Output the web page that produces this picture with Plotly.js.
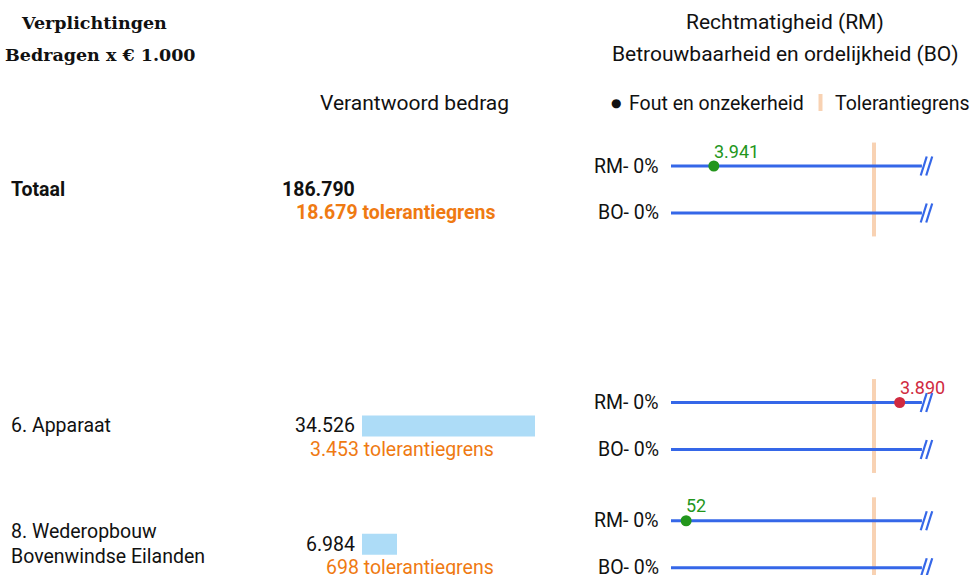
<!DOCTYPE html>
<html>
<head>
<meta charset="utf-8">
<script src="https://cdn.plot.ly/plotly-3.0.1.min.js"></script>
<style>html,body{margin:0;padding:0;background:#fff;}#chart{width:971px;height:575px;}</style>
</head>
<body>
<div id="chart"></div>
<script>
// ---- data ----
const categories = ["Totaal", "6. Apparaat", "8. Wederopbouw<br>Bovenwindse Eilanden"];
const bedrag = [186790, 34526, 6984];
const tolerantie = [18679, 3453, 698];
const rmFout = [3941, 3890, 52];
const rmPct = ["0%", "0%", "0%"];
const boPct = ["0%", "0%", "0%"];
const isTotal = [true, false, false];

// ---- layout helpers ----
const W = 971, H = 575;
const PX = x => x / W;          // paper x from pixel
const PY = y => 1 - y / H;      // paper y from pixel
const rowPos = categories.map((c, i) => i === 0 ? 0 : i + 1);
const rmOff = -0.1987, boOff = 0.1987, tolHalf = 0.397;
const lineEnd = 1.236;
const fmt = n => String(Math.round(n)).replace(/\B(?=(\d{3})+(?!\d))/g, '.');

const BLUE = '#3567e8', ORANGE_TXT = '#ef7a12', TOL = '#f8d2b3', BAR = '#addcf7';
const GREEN = '#23961c', RED = '#d02a40';
const FONT = 'Roboto, sans-serif';
const RS = 19.5; // row text size

const traces = [];

// bars (not for total)
const barIdx = categories.map((c, i) => i).filter(i => !isTotal[i]);
traces.push({
  type: 'bar', orientation: 'h',
  x: barIdx.map(i => bedrag[i]), y: barIdx.map(i => rowPos[i]),
  width: 0.1776, marker: {color: BAR}, xaxis: 'x', yaxis: 'y', hoverinfo: 'skip'
});

// tolerance vertical lines
const tx = [], ty = [];
rowPos.forEach(r => { tx.push(1, 1, null); ty.push(r - tolHalf, r + tolHalf, null); });
traces.push({type: 'scatter', mode: 'lines', x: tx, y: ty, xaxis: 'x2', yaxis: 'y',
  line: {color: TOL, width: 4}, hoverinfo: 'skip', cliponaxis: false});

// blue lines
const lx = [], ly = [];
rowPos.forEach(r => {
  [rmOff, boOff].forEach(o => { lx.push(0, lineEnd, null); ly.push(r + o, r + o, null); });
});
traces.push({type: 'scatter', mode: 'lines', x: lx, y: ly, xaxis: 'x2', yaxis: 'y',
  line: {color: BLUE, width: 3}, hoverinfo: 'skip', cliponaxis: false});

// break marks "//"
const bx = [], by = [];
const dxS = 0.0148, dyS = 0.0803;
rowPos.forEach(r => {
  [rmOff, boOff].forEach(o => {
    [1.245, 1.272].forEach(c => { bx.push(c - dxS, c + dxS, null); by.push(r + o + dyS, r + o - dyS, null); });
  });
});
traces.push({type: 'scatter', mode: 'lines', x: bx, y: by, xaxis: 'x2', yaxis: 'y',
  line: {color: BLUE, width: 2.2}, hoverinfo: 'skip', cliponaxis: false});

// dots
const ratio = rmFout.map((v, i) => v / tolerantie[i]);
const dotColor = rmFout.map((v, i) => v > tolerantie[i] ? RED : GREEN);
traces.push({type: 'scatter', mode: 'markers', x: ratio, y: rowPos.map(r => r + rmOff),
  xaxis: 'x2', yaxis: 'y', marker: {color: dotColor, size: 11}, hoverinfo: 'skip', cliponaxis: false});

// ---- annotations ----
const ann = [];
const A = o => ann.push(Object.assign({showarrow: false, xref: 'paper', yref: 'paper'}, o));

// header left
A({x: PX(19), y: PY(23), xanchor: 'left', yanchor: 'middle', text: '<b>Verplichtingen</b>',
  font: {family: 'DejaVu Serif, serif', size: 17.5, color: '#111'}});
A({x: PX(3), y: PY(55), xanchor: 'left', yanchor: 'middle', text: '<b>Bedragen x € 1.000</b>',
  font: {family: 'DejaVu Serif, serif', size: 17.5, color: '#111'}});
// header right
A({x: PX(785), y: PY(22), xanchor: 'center', yanchor: 'middle', text: 'Rechtmatigheid (RM)',
  font: {family: FONT, size: 21, color: '#111'}});
A({x: PX(785), y: PY(54), xanchor: 'center', yanchor: 'middle', text: 'Betrouwbaarheid en ordelijkheid (BO)',
  font: {family: FONT, size: 21, color: '#111'}});
A({x: PX(414), y: PY(103), xanchor: 'center', yanchor: 'middle', text: 'Verantwoord bedrag',
  font: {family: FONT, size: 21, color: '#111'}});
// legend
A({x: PX(616), y: PY(103), xanchor: 'center', yanchor: 'middle', text: '●',
  font: {family: 'DejaVu Sans, sans-serif', size: 12, color: '#111'}});
A({x: PX(627), y: PY(103), xanchor: 'left', yanchor: 'middle', text: 'Fout en onzekerheid',
  font: {family: FONT, size: 19.5, color: '#111'}});
A({x: PX(833), y: PY(103), xanchor: 'left', yanchor: 'middle', text: 'Tolerantiegrens',
  font: {family: FONT, size: 19.5, color: '#111'}});

// rows
categories.forEach((c, i) => {
  const r = rowPos[i];
  const b = isTotal[i];
  ann.push({showarrow: false, xref: 'paper', yref: 'y', x: PX(9), y: r, xanchor: 'left', yanchor: 'middle',
    align: 'left', text: b ? '<b>' + c + '</b>' : c,
    font: {family: FONT, size: RS, color: '#111'}});
  ann.push({showarrow: false, xref: 'paper', yref: 'y', x: PX(357), y: r, xanchor: 'right', yanchor: 'middle',
    text: b ? '<b>' + fmt(bedrag[i]) + '</b>' : fmt(bedrag[i]),
    font: {family: FONT, size: RS, color: '#111'}});
  const tt = fmt(tolerantie[i]) + ' tolerantiegrens';
  ann.push({showarrow: false, xref: 'paper', yref: 'y', x: PX(b ? 498 : 496), y: r + boOff, xanchor: 'right', yanchor: 'middle',
    text: b ? '<b>' + tt + '</b>' : tt,
    font: {family: FONT, size: RS, color: ORANGE_TXT}});
  ann.push({showarrow: false, xref: 'paper', yref: 'y', x: PX(661), y: r + rmOff, xanchor: 'right', yanchor: 'middle',
    text: 'RM- ' + rmPct[i], font: {family: FONT, size: RS, color: '#111'}});
  ann.push({showarrow: false, xref: 'paper', yref: 'y', x: PX(661), y: r + boOff, xanchor: 'right', yanchor: 'middle',
    text: 'BO- ' + boPct[i], font: {family: FONT, size: RS, color: '#111'}});
  ann.push({showarrow: false, xref: 'x2', yref: 'y', x: ratio[i], y: r + rmOff, xanchor: 'left', yanchor: 'middle',
    xshift: -2, yshift: 15, text: fmt(rmFout[i]),
    font: {family: FONT, size: 18, color: dotColor[i]}});
});

const layout = {
  width: W, height: H,
  margin: {l: 0, r: 0, t: 0, b: 0, pad: 0},
  paper_bgcolor: '#fff', plot_bgcolor: '#fff',
  showlegend: false,
  xaxis: {domain: [0, 1], range: [-362 / 0.0050107, (W - 362) / 0.0050107], visible: false, fixedrange: true},
  xaxis2: {domain: [0, 1], overlaying: 'x', range: [-671 / 203, (W - 671) / 203], visible: false, fixedrange: true},
  yaxis: {domain: [0, 1], range: [3.2601, -1.6025], visible: false, fixedrange: true},
  annotations: ann,
  shapes: [{type: 'rect', xref: 'paper', yref: 'paper', x0: PX(818.5), x1: PX(822.5), y0: PY(111), y1: PY(94),
    fillcolor: TOL, line: {width: 0}}]
};

Plotly.newPlot('chart', traces, layout, {displayModeBar: false, staticPlot: true});
</script>
</body>
</html>
